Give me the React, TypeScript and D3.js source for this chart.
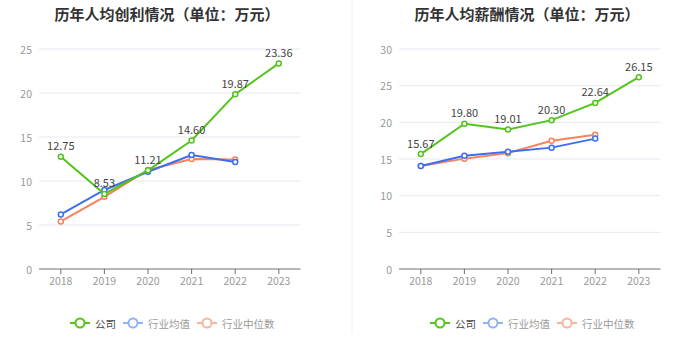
import React from "react";
import * as d3 from "d3";

const years = ["2018", "2019", "2020", "2021", "2022", "2023"];

const profitCompany = [12.75, 8.53, 11.21, 14.6, 19.87, 23.36];
const profitAvg = [6.2, 8.98, 11.05, 12.95, 12.16];
const profitMedian = [5.4, 8.2, 11.25, 12.5, 12.45];
const profitTicks = [0, 5, 10, 15, 20, 25];

const salaryCompany = [15.67, 19.8, 19.01, 20.3, 22.64, 26.15];
const salaryAvg = [14.05, 15.45, 16.0, 16.55, 17.78];
const salaryMedian = [14.05, 15.05, 15.8, 17.5, 18.3];
const salaryTicks = [0, 5, 10, 15, 20, 25, 30];

const seriesNames = ["公司", "行业均值", "行业中位数"];
const seriesColors = ["#52c41a", "#3b6ff0", "#f7835c"];
const legendIconColors = ["#52c41a", "#93b1f7", "#f9b49b"];
const legendTextColors = ["#444", "#999", "#999"];

const FONT = "'Noto Sans CJK SC', 'Noto Sans', sans-serif";

type PanelProps = {
  ox: number;
  title: string;
  company: number[];
  avg: number[];
  median: number[];
  ticks: number[];
};

function Panel({ ox, title, company, avg, median, ticks }: PanelProps) {
  const left = ox + 39;
  const right = ox + 300.6;
  const top = 49;
  const bottom = 269;
  const x = d3.scaleBand<string>().domain(years).range([left, right]);
  const xc = (i: number) => (x(years[i]) as number) + x.bandwidth() / 2;
  const y = d3
    .scaleLinear()
    .domain([0, ticks[ticks.length - 1]])
    .range([bottom, top]);
  const line = d3
    .line<number>()
    .x((_, i) => xc(i))
    .y((d) => y(d));
  const all = [company, avg, median];
  const legendX = [ox + 70, ox + 123, ox + 197];
  return (
    <g>
      <text
        x={ox + 167}
        y={13}
        textAnchor="middle"
        dominantBaseline="central"
        fontSize={15}
        fontWeight="bold"
        fill="#333"
        fontFamily={FONT}
      >
        {title}
      </text>
      {ticks.map((t) => (
        <g key={t}>
          {t !== 0 && (
            <line x1={left} x2={right} y1={y(t)} y2={y(t)} stroke="#e6e9f2" strokeWidth={1} />
          )}
          <text
            x={left - 7}
            y={y(t)}
            textAnchor="end"
            dominantBaseline="central"
            fontSize={10.5}
            fill="#999"
            fontFamily={FONT}
          >
            {t}
          </text>
        </g>
      ))}
      <line x1={left} x2={right} y1={bottom} y2={bottom} stroke="#6e7079" strokeWidth={1} />
      {years.map((yr, i) => (
        <g key={yr}>
          <line x1={xc(i)} x2={xc(i)} y1={bottom} y2={bottom + 5} stroke="#6e7079" strokeWidth={1} />
          <text
            x={xc(i)}
            y={280}
            textAnchor="middle"
            dominantBaseline="central"
            fontSize={10.5}
            fill="#999"
            fontFamily={FONT}
          >
            {yr}
          </text>
        </g>
      ))}
      {[2, 1, 0].map((s) => (
        <g key={s}>
          <path d={line(all[s]) || ""} fill="none" stroke={seriesColors[s]} strokeWidth={2} />
          {all[s].map((v, i) => (
            <circle key={i} cx={xc(i)} cy={y(v)} r={2.5} fill="#fff" stroke={seriesColors[s]} strokeWidth={1.5} />
          ))}
        </g>
      ))}
      {company.map((v, i) => (
        <text
          key={i}
          x={xc(i)}
          y={y(v) - 11.5}
          textAnchor="middle"
          dominantBaseline="central"
          fontSize={11}
          fill="#444"
          fontFamily={FONT}
        >
          {v.toFixed(2)}
        </text>
      ))}
      {seriesNames.map((n, s) => (
        <g key={n}>
          <line x1={legendX[s]} x2={legendX[s] + 20} y1={323} y2={323} stroke={legendIconColors[s]} strokeWidth={2} />
          <circle cx={legendX[s] + 10} cy={323} r={4.5} fill="#fff" stroke={legendIconColors[s]} strokeWidth={2} />
          <text
            x={legendX[s] + 25}
            y={323}
            dominantBaseline="central"
            fontSize={10.5}
            fill={legendTextColors[s]}
            fontFamily={FONT}
          >
            {n}
          </text>
        </g>
      ))}
    </g>
  );
}

export default function App() {
  return (
    <svg width={700} height={359} style={{ position: "absolute", left: 0, top: 0, background: "#fff" }}>
      <rect x={0} y={0} width={700} height={359} fill="#fff" />
      <line x1={352} x2={352} y1={0} y2={333} stroke="#f0f0f0" strokeWidth={1} />
      <Panel
        ox={0}
        title="历年人均创利情况（单位：万元）"
        company={profitCompany}
        avg={profitAvg}
        median={profitMedian}
        ticks={profitTicks}
      />
      <Panel
        ox={360}
        title="历年人均薪酬情况（单位：万元）"
        company={salaryCompany}
        avg={salaryAvg}
        median={salaryMedian}
        ticks={salaryTicks}
      />
    </svg>
  );
}
